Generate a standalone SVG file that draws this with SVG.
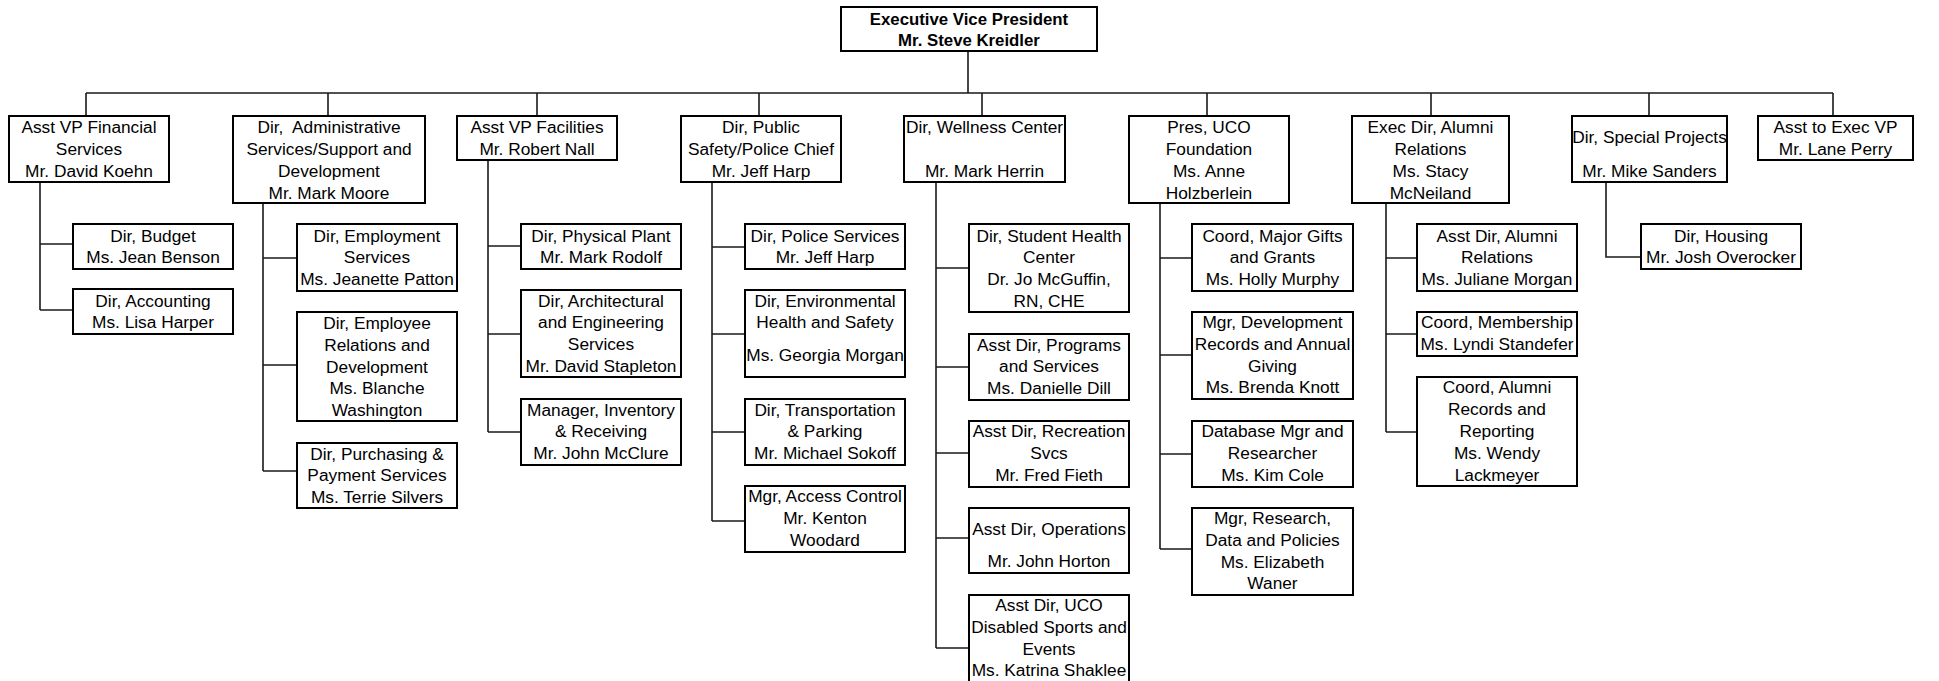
<svg xmlns="http://www.w3.org/2000/svg" width="1939" height="681" viewBox="0 0 1939 681">
<style>
  rect.box { fill: #fff; stroke: #000; stroke-width: 2; }
  text { font-family: "Liberation Sans", Arial, sans-serif; font-size: 17.3px; fill: #000; text-anchor: middle; white-space: pre; }
  text.bold { font-weight: bold; font-size: 16.8px; }
  .conn path { fill: none; stroke: #1a1a1a; stroke-width: 1.6; }
</style>
<rect width="1939" height="681" fill="#fff"/>
<g class="conn" id="connectors">
  <path d="M968 51 V93 M86 93 H1833 M86 93 V116 M328 93 V116 M537 93 V116 M759 93 V116 M982 93 V116 M1207 93 V116 M1431 93 V116 M1649 93 V116 M1833 93 V116"/>
  <path d="M40 182 V310 M40 244 H73 M40 310 H73"/>
  <path d="M263 203 V471 M263 258 H297 M263 365 H297 M263 471 H297"/>
  <path d="M488 160 V432 M488 246 H521 M488 334 H521 M488 432 H521"/>
  <path d="M712 182 V521 M712 247 H745 M712 334 H745 M712 432 H745 M712 521 H745"/>
  <path d="M936 182 V648 M936 268 H969 M936 367 H969 M936 453 H969 M936 538 H969 M936 648 H969"/>
  <path d="M1160 203 V549 M1160 258 H1192 M1160 355 H1192 M1160 454 H1192 M1160 549 H1192"/>
  <path d="M1386 203 V432 M1386 258 H1417 M1386 334 H1417 M1386 432 H1417"/>
  <path d="M1606 182 V257 H1641"/>
</g>
<g id="evp"><rect class="box" x="841" y="7" width="256" height="44"/>
  <text class="bold"><tspan x="969" y="25">Executive Vice President</tspan><tspan x="969" y="46">Mr. Steve Kreidler</tspan></text></g>

<g id="n-financial"><rect class="box" x="9" y="116" width="160" height="66"/>
  <text><tspan x="89" y="133">Asst VP Financial</tspan><tspan x="89" y="154.5">Services</tspan><tspan x="89" y="176.5">Mr. David Koehn</tspan></text></g>
<g id="n-admin"><rect class="box" x="233" y="116" width="192" height="87"/>
  <text><tspan x="329" y="133">Dir,  Administrative</tspan><tspan x="329" y="154.5">Services/Support and</tspan><tspan x="329" y="176.5">Development</tspan><tspan x="329" y="198.5">Mr. Mark Moore</tspan></text></g>
<g id="n-facilities"><rect class="box" x="457" y="116" width="160" height="44"/>
  <text><tspan x="537" y="133">Asst VP Facilities</tspan><tspan x="537" y="154.5">Mr. Robert Nall</tspan></text></g>
<g id="n-safety"><rect class="box" x="681" y="116" width="160" height="66"/>
  <text><tspan x="761" y="133">Dir, Public</tspan><tspan x="761" y="154.5">Safety/Police Chief</tspan><tspan x="761" y="176.5">Mr. Jeff Harp</tspan></text></g>
<g id="n-wellness"><rect class="box" x="904" y="116" width="161" height="66"/>
  <text><tspan x="984.5" y="133">Dir, Wellness Center</tspan><tspan x="984.5" y="177">Mr. Mark Herrin</tspan></text></g>
<g id="n-foundation"><rect class="box" x="1129" y="116" width="160" height="87"/>
  <text><tspan x="1209" y="133">Pres, UCO</tspan><tspan x="1209" y="154.5">Foundation</tspan><tspan x="1209" y="176.5">Ms. Anne</tspan><tspan x="1209" y="198.5">Holzberlein</tspan></text></g>
<g id="n-alumni"><rect class="box" x="1352" y="116" width="157" height="87"/>
  <text><tspan x="1430.5" y="133">Exec Dir, Alumni</tspan><tspan x="1430.5" y="154.5">Relations</tspan><tspan x="1430.5" y="176.5">Ms. Stacy</tspan><tspan x="1430.5" y="198.5">McNeiland</tspan></text></g>
<g id="n-special"><rect class="box" x="1572" y="116" width="155" height="66"/>
  <text><tspan x="1649.5" y="143">Dir, Special Projects</tspan><tspan x="1649.5" y="177">Mr. Mike Sanders</tspan></text></g>
<g id="n-asst"><rect class="box" x="1758" y="116" width="155" height="44"/>
  <text><tspan x="1835.5" y="133">Asst to Exec VP</tspan><tspan x="1835.5" y="154.5">Mr. Lane Perry</tspan></text></g>

<g id="c-budget"><rect class="box" x="73" y="224" width="160" height="45"/>
  <text><tspan x="153" y="241.5">Dir, Budget</tspan><tspan x="153" y="263">Ms. Jean Benson</tspan></text></g>
<g id="c-accounting"><rect class="box" x="73" y="289" width="160" height="45"/>
  <text><tspan x="153" y="306.5">Dir, Accounting</tspan><tspan x="153" y="328">Ms. Lisa Harper</tspan></text></g>

<g id="c-employment"><rect class="box" x="297" y="224" width="160" height="67"/>
  <text><tspan x="377" y="241.5">Dir, Employment</tspan><tspan x="377" y="263">Services</tspan><tspan x="377" y="285">Ms. Jeanette Patton</tspan></text></g>
<g id="c-employee"><rect class="box" x="297" y="312" width="160" height="109"/>
  <text><tspan x="377" y="328.5">Dir, Employee</tspan><tspan x="377" y="350.5">Relations and</tspan><tspan x="377" y="372.5">Development</tspan><tspan x="377" y="393.5">Ms. Blanche</tspan><tspan x="377" y="415.5">Washington</tspan></text></g>
<g id="c-purchasing"><rect class="box" x="297" y="443" width="160" height="65"/>
  <text><tspan x="377" y="459.5">Dir, Purchasing &amp;</tspan><tspan x="377" y="481">Payment Services</tspan><tspan x="377" y="502.5">Ms. Terrie Silvers</tspan></text></g>

<g id="c-plant"><rect class="box" x="521" y="224" width="160" height="45"/>
  <text><tspan x="601" y="241.5">Dir, Physical Plant</tspan><tspan x="601" y="263">Mr. Mark Rodolf</tspan></text></g>
<g id="c-arch"><rect class="box" x="521" y="290" width="160" height="87"/>
  <text><tspan x="601" y="306.5">Dir, Architectural</tspan><tspan x="601" y="328">and Engineering</tspan><tspan x="601" y="350">Services</tspan><tspan x="601" y="372">Mr. David Stapleton</tspan></text></g>
<g id="c-inventory"><rect class="box" x="521" y="399" width="160" height="66"/>
  <text><tspan x="601" y="415.5">Manager, Inventory</tspan><tspan x="601" y="437">&amp; Receiving</tspan><tspan x="601" y="459">Mr. John McClure</tspan></text></g>

<g id="c-police"><rect class="box" x="745" y="224" width="160" height="45"/>
  <text><tspan x="825" y="241.5">Dir, Police Services</tspan><tspan x="825" y="263">Mr. Jeff Harp</tspan></text></g>
<g id="c-env"><rect class="box" x="745" y="290" width="160" height="87"/>
  <text><tspan x="825" y="306.5">Dir, Environmental</tspan><tspan x="825" y="328">Health and Safety</tspan><tspan x="825" y="361">Ms. Georgia Morgan</tspan></text></g>
<g id="c-transport"><rect class="box" x="745" y="399" width="160" height="66"/>
  <text><tspan x="825" y="415.5">Dir, Transportation</tspan><tspan x="825" y="437">&amp; Parking</tspan><tspan x="825" y="459">Mr. Michael Sokoff</tspan></text></g>
<g id="c-access"><rect class="box" x="745" y="486" width="160" height="66"/>
  <text><tspan x="825" y="502">Mgr, Access Control</tspan><tspan x="825" y="524">Mr. Kenton</tspan><tspan x="825" y="546">Woodard</tspan></text></g>

<g id="c-health"><rect class="box" x="969" y="224" width="160" height="88"/>
  <text><tspan x="1049" y="241.5">Dir, Student Health</tspan><tspan x="1049" y="263">Center</tspan><tspan x="1049" y="285">Dr. Jo McGuffin,</tspan><tspan x="1049" y="306.5">RN, CHE</tspan></text></g>
<g id="c-programs"><rect class="box" x="969" y="334" width="160" height="66"/>
  <text><tspan x="1049" y="350.5">Asst Dir, Programs</tspan><tspan x="1049" y="372">and Services</tspan><tspan x="1049" y="393.5">Ms. Danielle Dill</tspan></text></g>
<g id="c-recreation"><rect class="box" x="969" y="421" width="160" height="66"/>
  <text><tspan x="1049" y="437">Asst Dir, Recreation</tspan><tspan x="1049" y="459">Svcs</tspan><tspan x="1049" y="480.5">Mr. Fred Fieth</tspan></text></g>
<g id="c-operations"><rect class="box" x="969" y="508" width="160" height="65"/>
  <text><tspan x="1049" y="535">Asst Dir, Operations</tspan><tspan x="1049" y="567">Mr. John Horton</tspan></text></g>
<g id="c-disabled"><rect class="box" x="969" y="595" width="160" height="92"/>
  <text><tspan x="1049" y="611">Asst Dir, UCO</tspan><tspan x="1049" y="633">Disabled Sports and</tspan><tspan x="1049" y="655">Events</tspan><tspan x="1049" y="676">Ms. Katrina Shaklee</tspan></text></g>

<g id="c-gifts"><rect class="box" x="1192" y="224" width="161" height="67"/>
  <text><tspan x="1272.5" y="241.5">Coord, Major Gifts</tspan><tspan x="1272.5" y="263">and Grants</tspan><tspan x="1272.5" y="285">Ms. Holly Murphy</tspan></text></g>
<g id="c-devrecords"><rect class="box" x="1192" y="312" width="161" height="87"/>
  <text><tspan x="1272.5" y="328">Mgr, Development</tspan><tspan x="1272.5" y="350">Records and Annual</tspan><tspan x="1272.5" y="372">Giving</tspan><tspan x="1272.5" y="393">Ms. Brenda Knott</tspan></text></g>
<g id="c-database"><rect class="box" x="1192" y="421" width="161" height="66"/>
  <text><tspan x="1272.5" y="437">Database Mgr and</tspan><tspan x="1272.5" y="459">Researcher</tspan><tspan x="1272.5" y="480.5">Ms. Kim Cole</tspan></text></g>
<g id="c-research"><rect class="box" x="1192" y="508" width="161" height="87"/>
  <text><tspan x="1272.5" y="524">Mgr, Research,</tspan><tspan x="1272.5" y="546">Data and Policies</tspan><tspan x="1272.5" y="568">Ms. Elizabeth</tspan><tspan x="1272.5" y="589">Waner</tspan></text></g>

<g id="c-alumnirel"><rect class="box" x="1417" y="224" width="160" height="67"/>
  <text><tspan x="1497" y="241.5">Asst Dir, Alumni</tspan><tspan x="1497" y="263">Relations</tspan><tspan x="1497" y="285">Ms. Juliane Morgan</tspan></text></g>
<g id="c-membership"><rect class="box" x="1417" y="312" width="160" height="44"/>
  <text><tspan x="1497" y="328">Coord, Membership</tspan><tspan x="1497" y="350">Ms. Lyndi Standefer</tspan></text></g>
<g id="c-alumnirec"><rect class="box" x="1417" y="377" width="160" height="109"/>
  <text><tspan x="1497" y="393">Coord, Alumni</tspan><tspan x="1497" y="415">Records and</tspan><tspan x="1497" y="437">Reporting</tspan><tspan x="1497" y="459">Ms. Wendy</tspan><tspan x="1497" y="481">Lackmeyer</tspan></text></g>

<g id="c-housing"><rect class="box" x="1641" y="224" width="160" height="45"/>
  <text><tspan x="1721" y="241.5">Dir, Housing</tspan><tspan x="1721" y="263">Mr. Josh Overocker</tspan></text></g>
</svg>
